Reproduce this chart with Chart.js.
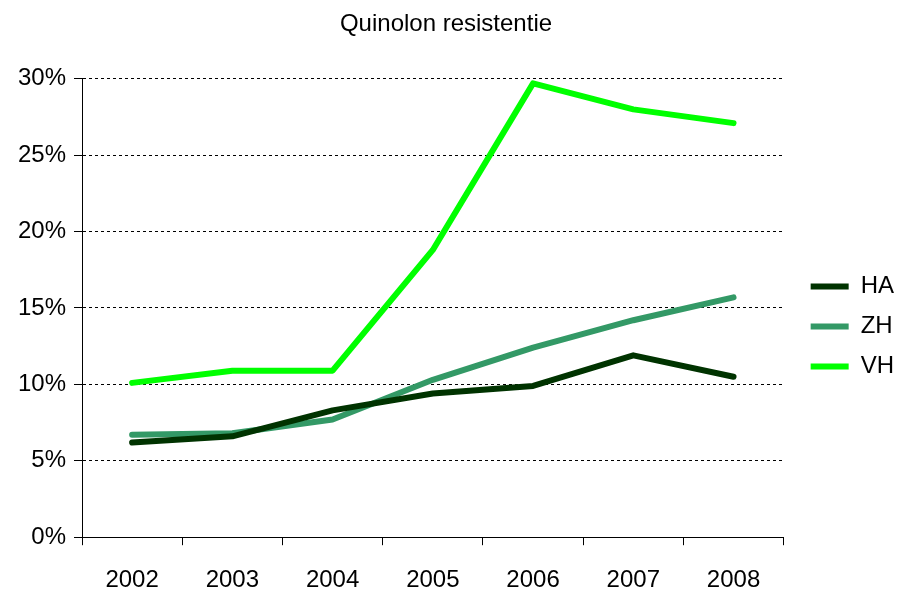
<!DOCTYPE html>
<html>
<head>
<meta charset="utf-8">
<script src="https://cdn.jsdelivr.net/npm/chart.js@4/dist/chart.umd.min.js"></script>
<style>
  html, body { margin:0; padding:0; background:#fff; }
  #wrap { width:898px; height:591px; position:relative; }
</style>
</head>
<body>
<div id="wrap"><canvas id="c"></canvas></div>
<script>
const years = ['2002','2003','2004','2005','2006','2007','2008']
const ha = [6.2, 6.6, 8.3, 9.4, 9.9, 11.9, 10.5]
const zh = [6.7, 6.8, 7.7, 10.3, 12.4, 14.2, 15.7]
const vh = [10.1, 10.9, 10.9, 18.8, 29.7, 28.0, 27.1]

const C = { ha:'#003300', zh:'#339966', vh:'#00FF00', text:'#000000' }
const FONT = 'Liberation Sans, Arial, sans-serif'

function line(label, data, color) {
  return { label, data: data.map(v => v / 100), borderColor: color, backgroundColor: color,
    borderWidth: 6, pointRadius: 0, tension: 0, borderCapStyle: 'round', borderJoinStyle: 'round', fill: false }
}

new Chart(document.getElementById('c'), {
  type: 'line',
  data: {
    labels: years,
    datasets: [line('HA', ha, C.ha), line('ZH', zh, C.zh), line('VH', vh, C.vh)]
  },
  options: {
    responsive: true, maintainAspectRatio: false, animation: false,
    layout: { padding: { left: -12, right: -6, top: 0, bottom: -25 } },
    plugins: {
      title: { display: true, text: 'Quinolon resistentie', color: C.text,
        font: { family: FONT, size: 24, weight: 'normal' }, padding: { top: 10, bottom: 40 } },
      legend: { position: 'right', align: 'center',
        title: { display: true, text: '', font: { size: 10 }, padding: { top: 25, bottom: 0 } },
        labels: { color: C.text, font: { family: FONT, size: 24 }, usePointStyle: true,
          pointStyle: 'line', pointStyleWidth: 38, padding: 16 } },
      tooltip: { enabled: false }
    },
    scales: {
      x: {
        offset: true,
        grid: { drawOnChartArea: false, drawTicks: true, tickLength: 8, color: '#000', tickColor: '#000', offset: true },
        border: { color: '#000', width: 1 },
        ticks: { color: C.text, font: { family: FONT, size: 24 }, padding: 21, maxRotation: 0 }
      },
      y: {
        min: 0, max: 0.3,
        grid: { color: '#000', lineWidth: 1, drawTicks: true, tickLength: 8, tickColor: '#000', tickBorderDash: [] },
        border: { color: '#000', width: 1, dash: [3, 3] },
        ticks: { stepSize: 0.05, color: C.text, font: { family: FONT, size: 24 }, padding: 8,
          callback: v => Math.round(v * 100) + '%' },
        afterFit: s => { s.width = 94 }
      },
      // empty spacer between the plot and the legend
      gap: {
        type: 'linear', position: 'right', display: true,
        grid: { display: false }, border: { display: false }, ticks: { display: false },
        afterFit: s => { s.width = 11 }
      }
    }
  }
})
</script>
</body>
</html>
